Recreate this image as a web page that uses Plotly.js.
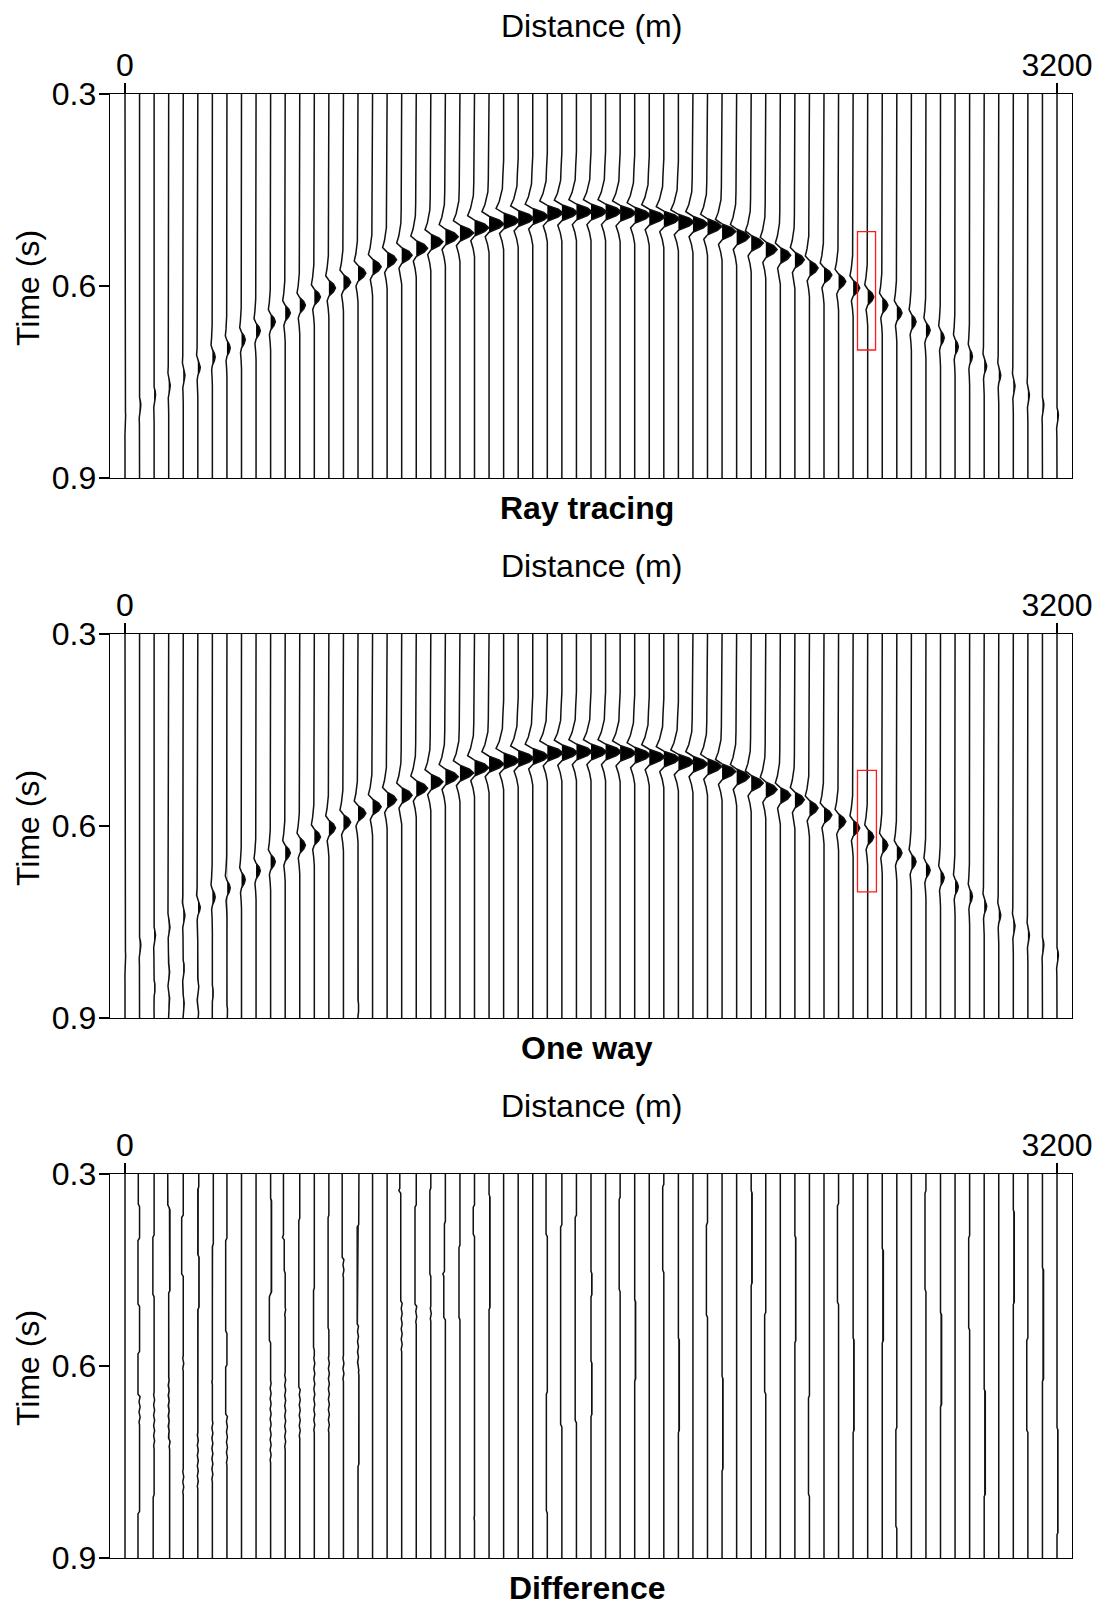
<!DOCTYPE html>
<html>
<head>
<meta charset="utf-8">
<script src="https://cdn.plot.ly/plotly-3.0.1.min.js"></script>
<style>
  html, body { margin: 0; padding: 0; background: #ffffff; }
  #chart { width: 1099px; height: 1605px; }
</style>
</head>
<body>
<div id="chart"></div>
<script>
// Receiver offsets along the line (m)
const offsets = [0,50,100,150,200,250,300,350,400,450,500,550,600,650,700,750,
  800,850,900,950,1000,1050,1100,1150,1200,1250,1300,1350,1400,1450,1500,1550,
  1600,1650,1700,1750,1800,1850,1900,1950,2000,2050,2100,2150,2200,2250,2300,2350,
  2400,2450,2500,2550,2600,2650,2700,2750,2800,2850,2900,2950,3000,3050,3100,3150,3200];

// Picked arrival time of the diffraction on each trace (s)
const arrivalTimes = [0.802,0.786,0.770,0.755,0.739,0.727,0.711,0.697,0.684,0.670,0.656,
  0.642,0.630,0.617,0.603,0.594,0.580,0.570,0.559,0.552,0.541,0.531,0.523,0.517,0.509,
  0.503,0.498,0.494,0.491,0.486,0.485,0.484,0.484,0.484,0.486,0.489,0.492,0.495,0.500,
  0.503,0.507,0.515,0.523,0.533,0.543,0.552,0.559,0.572,0.583,0.593,0.603,0.617,0.630,
  0.642,0.656,0.669,0.681,0.695,0.710,0.725,0.739,0.756,0.770,0.786,0.802];

// Relative peak amplitude of the event on each trace
const amplitudes = [0.04,0.08,0.09,0.10,0.11,0.16,0.18,0.21,0.24,0.27,0.30,0.33,0.36,
  0.39,0.42,0.46,0.50,0.55,0.60,0.66,0.72,0.77,0.82,0.87,0.91,0.95,1,1,1,1,1,1,1,1,1,1,1,
  1,1,0.95,0.91,0.87,0.82,0.77,0.72,0.66,0.60,0.55,0.50,0.46,0.42,0.39,0.36,0.33,0.30,
  0.27,0.24,0.21,0.18,0.16,0.13,0.11,0.10,0.09,0.09];

// Source wavelet: lag from the peak (s) and normalised amplitude
const waveletLag = [-0.094,-0.070,-0.050,-0.030,-0.019,-0.012,-0.006,0,0.006,0.013,0.020,0.032,0.045];
const waveletAmp = [0,-0.05,-0.08,-0.28,-0.48,0,0.7,1,0.7,0,-0.26,-0.1,0];

// Late ringing on the one-way section: [trace, time (s), amplitude]
const oneWayTails = [[2,0.853,0.07],[3,0.828,0.07],[3,0.869,0.06],[4,0.822,0.08],
  [4,0.877,0.06],[5,0.851,0.07],[5,0.891,0.05],[6,0.861,0.06],[7,0.892,0.05],
  [16,0.884,0.05]];

// Difference section: slow shifts [trace, start (s), end (s), amplitude]
const diffShifts = [
  [1,0.300,0.347,-0.08],[1,0.404,0.503,-0.1],[1,0.581,0.644,-0.1],[1,0.831,0.900,-0.1],
  [2,0.399,0.488,-0.08],[2,0.805,0.900,-0.06],
  [3,0.300,0.352,-0.06],[3,0.352,0.482,0.08],[3,0.717,0.900,0.06],
  [4,0.368,0.456,-0.1],
  [5,0.300,0.320,0.06],[5,0.430,0.508,0.08],
  [6,0.300,0.409,0.06],
  [7,0.404,0.545,-0.08],[7,0.602,0.675,-0.08],
  [10,0.342,0.488,0.06],[10,0.488,0.560,-0.08],
  [11,0.300,0.399,-0.11],[11,0.399,0.451,-0.06],
  [12,0.373,0.633,-0.06],
  [13,0.482,0.571,-0.05],
  [14,0.368,0.540,-0.05],
  [15,0.300,0.430,-0.08],
  [16,0.300,0.378,0.06],[16,0.383,0.534,-0.05],[16,0.607,0.753,0.06],
  [19,0.300,0.326,-0.12],[19,0.326,0.498,-0.06],
  [20,0.352,0.503,-0.08],
  [21,0.326,0.456,-0.06],
  [22,0.378,0.456,-0.06],[22,0.456,0.524,-0.1],
  [23,0.415,0.524,-0.06],
  [24,0.352,0.394,-0.08],
  [25,0.336,0.508,0.06],
  [29,0.300,0.394,-0.08],[29,0.644,0.826,-0.06],
  [30,0.383,0.691,-0.08],
  [31,0.368,0.685,-0.08],
  [32,0.456,0.488,0.06],[32,0.596,0.675,0.06],
  [34,0.340,0.480,-0.06],[35,0.500,0.620,0.06],[37,0.320,0.450,-0.07],
  [38,0.560,0.700,0.06],[40,0.380,0.520,-0.07],[41,0.620,0.760,0.06],
  [43,0.330,0.470,0.06],[44,0.520,0.640,-0.07],[46,0.400,0.560,0.06],
  [47,0.650,0.800,-0.06],[49,0.350,0.500,-0.07],[50,0.560,0.700,0.06],
  [52,0.420,0.560,0.07],[53,0.700,0.850,-0.06],[55,0.330,0.480,-0.06],
  [56,0.520,0.660,0.07],[58,0.400,0.540,-0.06],[59,0.640,0.800,0.07],
  [61,0.360,0.500,0.06],[62,0.560,0.700,-0.07],[63,0.450,0.620,0.07],[64,0.700,0.860,0.06]
];

// Difference section: short residual ripples [trace, start (s), end (s), amplitude]
const diffRipples = [
  [1,0.644,0.680,0.035],[2,0.633,0.717,0.03],[3,0.618,0.717,0.03],[4,0.576,0.607,0.03],
  [4,0.753,0.800,0.03],[5,0.696,0.784,0.03],[6,0.613,0.628,0.03],[6,0.685,0.769,0.03],
  [7,0.675,0.753,0.03],[10,0.623,0.748,0.03],[11,0.508,0.519,0.03],[11,0.602,0.717,0.03],
  [12,0.633,0.706,0.03],[13,0.576,0.691,0.03],[14,0.576,0.691,0.03],[15,0.430,0.456,0.03],
  [15,0.576,0.623,0.03],[16,0.534,0.607,0.03],[19,0.498,0.571,0.03],[20,0.503,0.534,0.03],
  [21,0.498,0.519,0.03],[24,0.826,0.836,0.03]
];
// One cycle of the ripple: lag (s) and amplitude
const rippleLag = [0,0.004,0.008,0.012,0.016];
const rippleAmp = [0,1,0,-1,0];

// Analysis windows drawn on the two modelled sections: [x0, x1, t0, t1]
const windowRT = [2515, 2577, 0.515, 0.700];
const windowOW = [2515, 2580, 0.513, 0.703];

const T0 = 0.3, T1 = 0.9;
const GAIN = 54; // metres of deflection for unit amplitude

function waveletPiece(t, a) {
  return waveletLag.map((l, k) => [t + l, a * waveletAmp[k]]);
}
function shiftPiece(t0, t1, a) {
  const r = 0.004;
  return [[t0 - r, 0], [t0, a], [t1, a], [t1 + r, 0]];
}
function ripplePiece(t0, t1, a) {
  const knots = [];
  const period = rippleLag[rippleLag.length - 1];
  for (let s = t0; s < t1 - 1e-9; s += period) {
    rippleLag.forEach((l, k) => {
      if (k === 0 && knots.length) return;
      knots.push([s + l, a * rippleAmp[k]]);
    });
  }
  return knots;
}
function evalPiece(p, t) {
  if (t <= p[0][0] || t >= p[p.length - 1][0]) return 0;
  for (let k = 1; k < p.length; k++) {
    if (t <= p[k][0]) {
      const [ta, va] = p[k - 1], [tb, vb] = p[k];
      return tb === ta ? vb : va + (vb - va) * (t - ta) / (tb - ta);
    }
  }
  return 0;
}
function buildWiggle(pieces) {
  let times = [T0, T1];
  pieces.forEach(p => p.forEach(([t]) => { if (t > T0 && t < T1) times.push(t); }));
  times = Array.from(new Set(times.map(t => Math.round(t * 1e6) / 1e6))).sort((a, b) => a - b);
  const vals = times.map(t => pieces.reduce((s, p) => s + evalPiece(p, t), 0));
  return { times, vals };
}

function panelTraces(piecesPerTrace, xa, ya) {
  const lx = [], ly = [], fx = [], fy = [];
  piecesPerTrace.forEach((pieces, i) => {
    const w = buildWiggle(pieces);
    const base = offsets[i];
    w.times.forEach((t, k) => {
      lx.push(base + GAIN * w.vals[k]); ly.push(t);
      fx.push(base + GAIN * Math.max(0, w.vals[k])); fy.push(t);
    });
    lx.push(null); ly.push(null); fx.push(null); fy.push(null);
  });
  return [
    { type: 'scatter', mode: 'lines', x: fx, y: fy, xaxis: xa, yaxis: ya,
      fill: 'toself', fillcolor: '#000000', line: { width: 0, color: '#000000' },
      hoverinfo: 'skip', showlegend: false, connectgaps: false },
    { type: 'scatter', mode: 'lines', x: lx, y: ly, xaxis: xa, yaxis: ya,
      line: { width: 1.5, color: '#111111' }, hoverinfo: 'skip', showlegend: false,
      connectgaps: false }
  ];
}

const rtPieces = offsets.map((_, i) => [waveletPiece(arrivalTimes[i], amplitudes[i])]);
const owPieces = offsets.map((_, i) => {
  const list = [waveletPiece(arrivalTimes[i], amplitudes[i])];
  oneWayTails.filter(e => e[0] === i).forEach(e => list.push(waveletPiece(e[1], e[2])));
  return list;
});
const dfPieces = offsets.map((_, i) => {
  const list = [];
  diffShifts.filter(e => e[0] === i).forEach(e => list.push(shiftPiece(e[1], e[2], e[3])));
  diffRipples.filter(e => e[0] === i).forEach(e => list.push(ripplePiece(e[1], e[2], e[3])));
  return list;
});

const data = [].concat(
  panelTraces(rtPieces, 'x', 'y'),
  panelTraces(owPieces, 'x2', 'y2'),
  panelTraces(dfPieces, 'x3', 'y3')
);

const H = 1605, W = 1099;
const ML = 110, MR = 27, PW = W - ML - MR;
const FONT = '"Liberation Sans", Arial, Helvetica, sans-serif';
const panelTop = [94, 634, 1174];
const panelH = 384;
const px = v => (v - ML) / PW;      // page x (px) -> paper x
const py = v => 1 - v / H;          // page y (px) -> paper y

function xAxis(yname) {
  return {
    domain: [0, 1], range: [-51.5, 3251.5], side: 'top', anchor: yname,
    tickmode: 'array', tickvals: [0, 3200], ticktext: ['0', '3200'],
    ticks: 'outside', ticklen: 10, tickwidth: 1.3, tickcolor: '#000',
    ticklabelstandoff: -6,
    showline: true, mirror: true, linewidth: 1.3, linecolor: '#000',
    showgrid: false, zeroline: false, fixedrange: true,
    tickfont: { family: FONT, size: 32, color: '#000' }
  };
}
function yAxis(xname, top) {
  return {
    domain: [py(top + panelH), py(top)], range: [T1, T0], anchor: xname,
    tickmode: 'array', tickvals: [0.3, 0.6, 0.9], ticktext: ['0.3', '0.6', '0.9'],
    ticks: 'outside', ticklen: 10, tickwidth: 1.3, tickcolor: '#000',
    ticklabelstandoff: -4,
    showline: true, mirror: true, linewidth: 1.3, linecolor: '#000',
    showgrid: false, zeroline: false, fixedrange: true,
    tickfont: { family: FONT, size: 32, color: '#000' }
  };
}

const names = ['Ray tracing', 'One way', 'Difference'];
const annotations = [];
panelTop.forEach((top, k) => {
  annotations.push({ xref: 'paper', yref: 'paper', x: px(591), y: py(top - 68),
    xanchor: 'center', yanchor: 'middle', showarrow: false, text: 'Distance (m)',
    font: { family: FONT, size: 32, color: '#000' } });
  annotations.push({ xref: 'paper', yref: 'paper', x: px(28), y: py(top + 194),
    xanchor: 'center', yanchor: 'middle', showarrow: false, text: 'Time (s)', textangle: -90,
    font: { family: FONT, size: 32, color: '#000' } });
  annotations.push({ xref: 'paper', yref: 'paper', x: px(587), y: py(top + 414),
    xanchor: 'center', yanchor: 'middle', showarrow: false, text: '<b>' + names[k] + '</b>',
    font: { family: FONT, size: 32, color: '#000' } });
});

function windowShape(w, xr, yr) {
  return { type: 'rect', xref: xr, yref: yr, x0: w[0], x1: w[1], y0: w[2], y1: w[3],
    line: { color: '#ff1a1a', width: 1.3 }, fillcolor: 'rgba(0,0,0,0)' };
}

const layout = {
  width: W, height: H, margin: { l: ML, r: MR, t: 0, b: 0, pad: 0 },
  paper_bgcolor: '#ffffff', plot_bgcolor: '#ffffff', showlegend: false,
  font: { family: FONT, size: 32, color: '#000' },
  xaxis: xAxis('y'), yaxis: yAxis('x', panelTop[0]),
  xaxis2: xAxis('y2'), yaxis2: yAxis('x2', panelTop[1]),
  xaxis3: xAxis('y3'), yaxis3: yAxis('x3', panelTop[2]),
  annotations: annotations,
  shapes: [windowShape(windowRT, 'x', 'y'), windowShape(windowOW, 'x2', 'y2')]
};

Plotly.newPlot('chart', data, layout, { staticPlot: true, displayModeBar: false });
</script>
</body>
</html>
